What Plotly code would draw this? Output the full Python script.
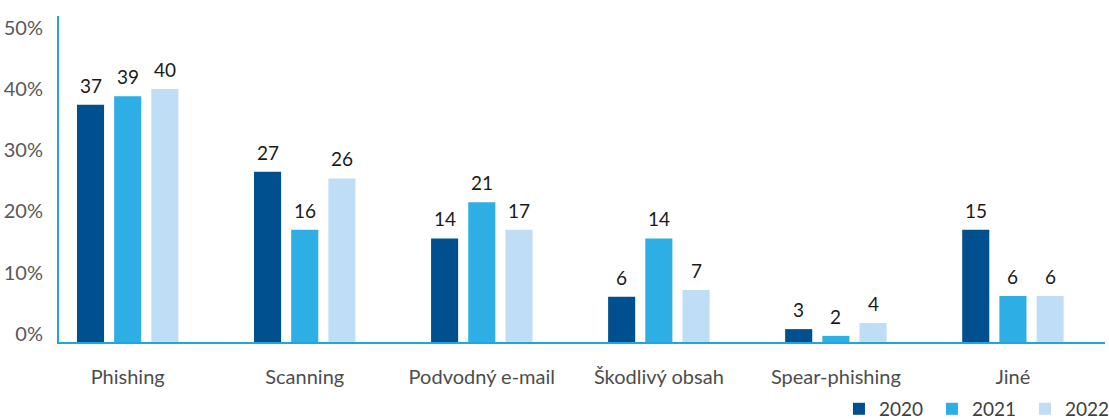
import plotly.graph_objects as go

categories = ["Phishing", "Scanning", "Podvodný e-mail", "Škodlivý obsah", "Spear-phishing", "Jiné"]
years = ["2020", "2021", "2022"]
# bar heights as drawn in the picture (percent)
heights_2020 = [38.7, 27.8, 16.9, 7.4, 2.1, 18.3]
heights_2021 = [40.1, 18.3, 22.8, 16.9, 1.0, 7.5]
heights_2022 = [41.3, 26.7, 18.3, 8.5, 3.1, 7.5]
# printed data labels
labels_2020 = [37, 27, 14, 6, 3, 15]
labels_2021 = [39, 16, 21, 14, 2, 6]
labels_2022 = [40, 26, 17, 7, 4, 6]
colors = ["#004f8e", "#2daee4", "#bfddf4"]
tick_vals = [0, 10, 20, 30, 40, 50]
tick_text = ["0%", "10%", "20%", "30%", "40%", "50%"]

heights = [heights_2020, heights_2021, heights_2022]
labels = [labels_2020, labels_2021, labels_2022]

FONT = "Lato, 'Open Sans', sans-serif"
SLOT = 0.21   # distance between bar centres within a group (category units)
BARW = 0.153  # bar width (category units)

xpos = list(range(len(categories)))

fig = go.Figure()
annotations = []
for i, (yr, h, lab, c) in enumerate(zip(years, heights, labels, colors)):
    off = (i - 1) * SLOT
    fig.add_trace(go.Bar(
        name=yr, x=xpos, y=h, width=BARW, offset=off - BARW / 2,
        marker=dict(color=c, line=dict(width=0)),
    ))
    for xi, hv, lv in zip(xpos, h, lab):
        annotations.append(dict(
            x=xi + off, y=hv, xref="x", yref="y", text=str(lv), showarrow=False,
            yanchor="bottom", yshift=6,
            font=dict(family=FONT, size=19, color="#1a1a1a"),
        ))

fig.update_layout(
    width=1109, height=419,
    margin=dict(l=59, r=4, t=16, b=77, autoexpand=False),
    plot_bgcolor="white", paper_bgcolor="white",
    barmode="overlay",
    font=dict(family=FONT, size=19, color="#595959"),
    showlegend=True,
    annotations=annotations,
    legend=dict(orientation="h", xref="container", x=0.7565, xanchor="left",
                yref="container", y=0.024, yanchor="middle",
                font=dict(family=FONT, size=19, color="#404040"),
                traceorder="normal", itemwidth=30, entrywidth=48, entrywidthmode="pixels",
                bgcolor="rgba(0,0,0,0)"),
    xaxis=dict(range=[-0.388, 5.52], showline=True, linecolor="#1fa6de", linewidth=2,
               tickvals=xpos, ticktext=categories,
               ticks="", showgrid=False, zeroline=False,
               tickfont=dict(family=FONT, size=20, color="#4d4d4d"),
               ticklabelstandoff=16),
    yaxis=dict(range=[0, 53.2], showline=True, linecolor="#1fa6de", linewidth=2,
               tickvals=tick_vals, ticktext=tick_text, ticks="", showgrid=False,
               zeroline=False, tickfont=dict(family=FONT, size=20, color="#595959"),
               ticklabelstandoff=10, ticklabelshift=-8),
)

fig.write_html("out.html", config={"displayModeBar": False},
               post_script="document.body.style.margin='0';")
